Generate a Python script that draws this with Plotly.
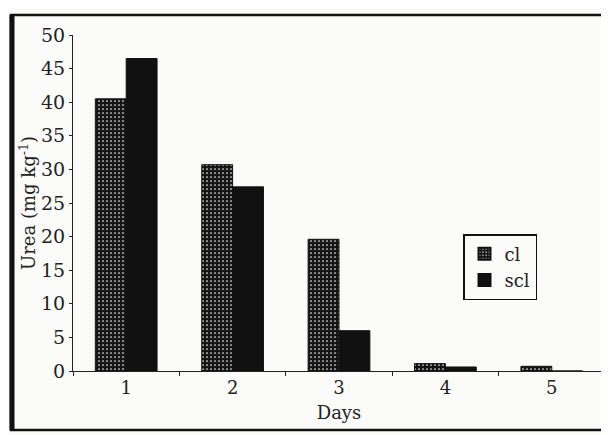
import plotly.graph_objects as go

days = ["1", "2", "3", "4", "5"]
cl = [40.5, 30.7, 19.6, 1.1, 0.7]
scl = [46.5, 27.4, 6.0, 0.6, 0.0]
y_ticks = [0, 5, 10, 15, 20, 25, 30, 35, 40, 45, 50]

FONT = "DejaVu Serif"

fig = go.Figure()
fig.add_trace(go.Bar(
    x=days, y=cl, name="cl",
    marker=dict(color="#151515", line=dict(color="#111", width=1),
                pattern=dict(shape=".", fgcolor="#f2f2f2", bgcolor="#151515",
                             size=4, solidity=0.15, fillmode="replace")),
))
fig.add_trace(go.Bar(
    x=days, y=scl, name="scl",
    marker=dict(color="#111111", line=dict(color="#111", width=1)),
))

# the page body adds an 8px offset; work in screen coordinates and subtract it
OFF = 8
FW, FH = 609, 435
L, R, T, B = 73 - OFF, FW - (605 - OFF), 35 - OFF, FH - (371 - OFF)
W, H = FW - L - R, FH - T - B

def px(x):
    return (x - OFF - L) / W

def py(y):
    return (FH - B - (y - OFF)) / H

fig.update_layout(
    width=FW, height=FH,
    margin=dict(l=L, r=R, t=T, b=B, autoexpand=False),
    paper_bgcolor="#fbfbf9", plot_bgcolor="rgba(0,0,0,0)",
    barmode="group", bargap=0.42, bargroupgap=0,
    font=dict(family=FONT, color="#222", size=17),
    showlegend=True,
    legend=dict(x=px(463), y=py(234), xanchor="left", yanchor="top",
                bgcolor="rgba(255,255,255,0)", bordercolor="#111", borderwidth=1.5,
                font=dict(family=FONT, size=18, color="#222"),
                itemwidth=30, tracegroupgap=0, itemsizing="constant"),
    xaxis=dict(type="category", tickson="boundaries", ticks="outside", ticklen=4,
               tickcolor="#222", showline=True, linecolor="#222", linewidth=1,
               showgrid=False, automargin=False,
               tickfont=dict(family=FONT, size=18, color="#222"),
               title=dict(text="Days", font=dict(family=FONT, size=18, color="#222"),
                          standoff=9)),
    yaxis=dict(range=[0, 50], tickvals=y_ticks, ticks="outside", ticklen=3,
               tickcolor="#222", showline=True, linecolor="#222", linewidth=1,
               showgrid=False, zeroline=False, automargin=False,
               tickfont=dict(family=FONT, size=19, color="#222"),
               title=dict(text="Urea (mg kg<sup>-1</sup>)",
                          font=dict(family=FONT, size=18, color="#222"), standoff=0)),
    shapes=[
        dict(type="rect", xref="paper", yref="paper",
             x0=px(11), x1=px(603), y0=py(430), y1=py(15),
             line=dict(color="#111", width=2.5), layer="below"),
        dict(type="line", xref="paper", yref="paper",
             x0=px(12), x1=px(12), y0=py(430), y1=py(15),
             line=dict(color="#111", width=5)),
    ],
)

fig.write_html("out.html")
